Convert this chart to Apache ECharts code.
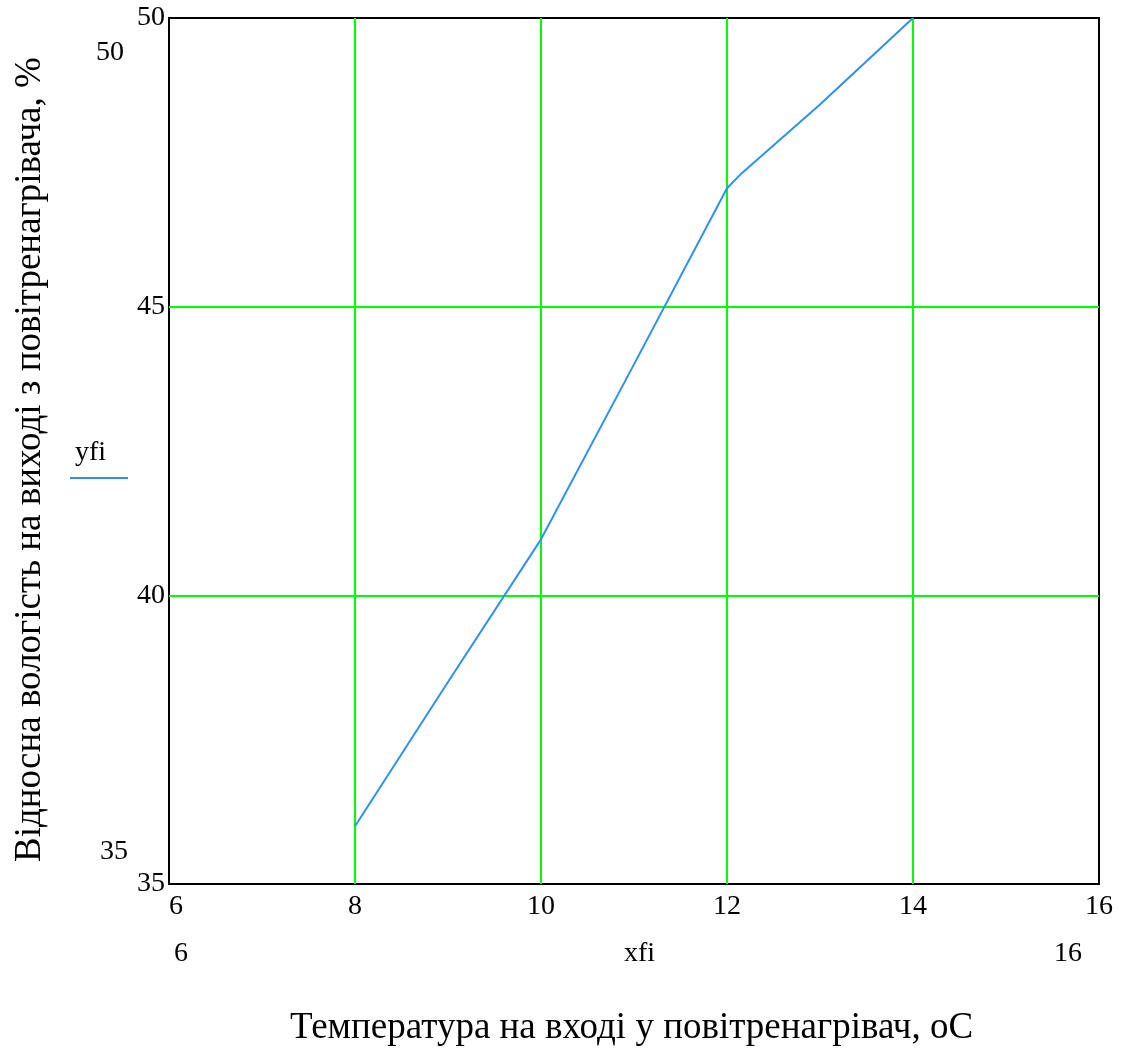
<!DOCTYPE html>
<html>
<head>
<meta charset="utf-8">
<script src="https://cdn.jsdelivr.net/npm/echarts@6/dist/echarts.min.js"></script>
<style>
html,body{margin:0;padding:0;background:#fff;}
#chart{width:1133px;height:1056px;}
</style>
</head>
<body>
<div id="chart"></div>
<script>
// Data
var xfi = [8, 9, 10, 11, 12, 12.15, 13, 14];
var yfi = [36.0, 38.5, 40.97, 44.0, 47.05, 47.3, 48.5, 50.0];
var seriesName = 'yfi';
var xTitle = 'Температура на вході у повітренагрівач, оС';
var yTitle = 'Відносна вологість на виході з повітренагрівача, %';
var xRange = [6, 16];
var yRange = [35, 50];
var xLimitLabels = ['6', 'xfi', '16'];
var yLimitLabels = ['50', '35'];

var FONT = '"Liberation Serif", "DejaVu Serif", serif';
var chart = echarts.init(document.getElementById('chart'), null, {renderer: 'canvas'});
var pts = xfi.map(function (x, i) { return [x, yfi[i]]; });

chart.setOption({
  backgroundColor: '#ffffff',
  animation: false,
  grid: {
    left: 169, top: 18, width: 930, height: 866,
    show: true, borderColor: '#000', borderWidth: 2, backgroundColor: 'transparent'
  },
  xAxis: {
    type: 'value', min: xRange[0], max: xRange[1], interval: 2,
    axisLine: {show: false},
    axisTick: {show: false},
    axisLabel: {color: '#000', fontFamily: FONT, fontSize: 28, margin: 9, alignMinLabel: 'left'},
    splitLine: {show: true, showMinLine: false, showMaxLine: false, lineStyle: {color: '#00ff00', width: 2}}
  },
  yAxis: {
    type: 'value', min: yRange[0], max: yRange[1], interval: 5,
    axisLine: {show: false},
    axisTick: {show: false},
    axisLabel: {color: '#000', fontFamily: FONT, fontSize: 28, margin: 4},
    splitLine: {show: true, showMinLine: false, showMaxLine: false, lineStyle: {color: '#00ff00', width: 2}}
  },
  series: [{
    name: seriesName,
    type: 'line',
    data: pts,
    showSymbol: false,
    lineStyle: {color: '#3090f0', width: 2},
    z: 5
  }],
  graphic: [
    {type: 'text', left: 96, top: 39, style: {text: yLimitLabels[0], font: '28px ' + FONT, fill: '#000'}},
    {type: 'text', left: 100, top: 838, style: {text: yLimitLabels[1], font: '28px ' + FONT, fill: '#000'}},
    {type: 'text', left: 174, top: 940, style: {text: xLimitLabels[0], font: '28px ' + FONT, fill: '#000'}},
    {type: 'text', left: 624, top: 940, style: {text: xLimitLabels[1], font: '28px ' + FONT, fill: '#000'}},
    {type: 'text', left: 1054, top: 940, style: {text: xLimitLabels[2], font: '28px ' + FONT, fill: '#000'}},
    {type: 'text', left: 75, top: 439, style: {text: seriesName, font: '28px ' + FONT, fill: '#000'}},
    {type: 'line', shape: {x1: 70, y1: 478, x2: 128, y2: 478}, style: {stroke: '#3090f0', lineWidth: 2}},
    {type: 'text', x: 290, y: 1010, style: {text: xTitle, font: '37px ' + FONT, fill: '#000'}},
    {type: 'text', x: 12, y: 862, rotation: Math.PI / 2, style: {text: yTitle, font: '37px ' + FONT, fill: '#000'}}
  ]
});
</script>
</body>
</html>
